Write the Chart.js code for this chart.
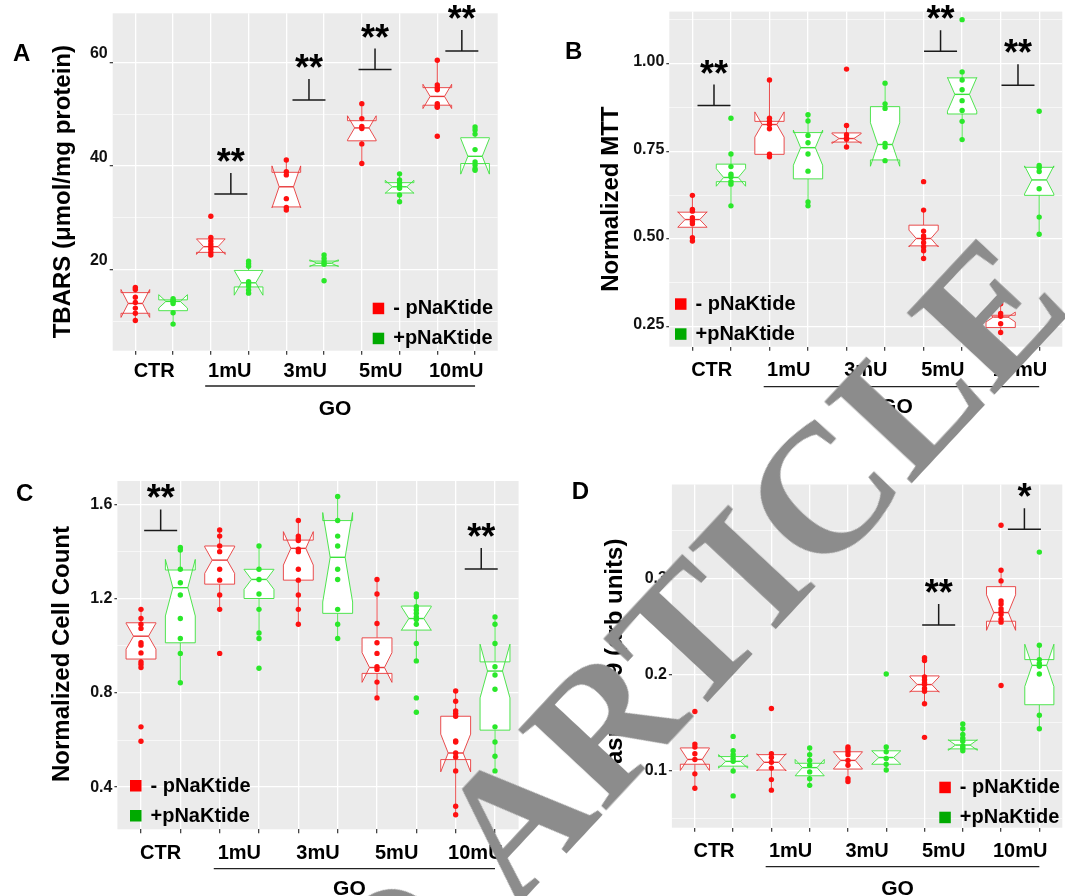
<!DOCTYPE html>
<html>
<head>
<meta charset="utf-8">
<script src="https://cdn.jsdelivr.net/npm/chart.js@4.4.1/dist/chart.umd.min.js"></script>
<style>
  html, body { margin: 0; padding: 0; background: #fff; }
  #page { position: relative; width: 1065px; height: 896px; overflow: hidden; }
  #page canvas { position: absolute; left: 0; top: 0; }
  #mark { position: absolute; width: 0; height: 0; transform: rotate(-47deg); transform-origin: 0 0;
          font-family: 'Liberation Serif', 'DejaVu Serif', serif; font-weight: bold; font-size: 182px;
          line-height: 1; color: #8c8c8c; white-space: pre; z-index: 5; }
  #mark span { position: absolute; top: -0.5065em; }
</style>
</head>
<body>
<div id="page">
  <canvas id="chartA" width="1065" height="896"></canvas>
  <canvas id="chartB" width="1065" height="896"></canvas>
  <canvas id="chartC" width="1065" height="896"></canvas>
  <canvas id="chartD" width="1065" height="896"></canvas>
  <div id="mark" style="left:470px; top:868.6px"><span style="right:0">RETRACTED </span><span style="left:0">ARTICLE</span></div>
</div>
<script>
const groups = ['CTR', '1mU', '3mU', '5mU', '10mU'];
const seriesNames = ['- pNaKtide', '+pNaKtide'];

// box stats per group: [lower whisker, Q1, median, Q3, upper whisker, notch half-height]

// A: TBARS
const tbarsRedPts = [
  [16.5, 16.1, 14.6, 13.6, 12.5, 11.5, 10.1],
  [30.3, 26.2, 25.5, 24.9, 24.4, 23.9, 23.3, 22.8],
  [41.2, 38.9, 38.3, 33.7, 32.0, 31.5],
  [52.1, 49.2, 47.7, 47.3, 44.3, 40.5],
  [60.5, 55.7, 55.2, 54.8, 52.1, 51.6, 51.4, 45.8]
];
const tbarsGreenPts = [
  [14.3, 14.0, 13.8, 13.4, 11.6, 9.4],
  [21.6, 21.1, 20.6, 17.6, 17.2, 16.8, 16.0, 15.4],
  [22.8, 22.1, 21.5, 21.0, 17.8],
  [38.5, 37.3, 36.8, 36.2, 35.7, 34.4, 33.1],
  [47.6, 47.0, 46.2, 43.2, 40.8, 40.2, 39.5, 39.2]
];
const tbarsRedBox = [
  [10.1, 11.5, 13.4, 15.5, 16.5, 2.7],
  [22.8, 23.3, 24.4, 25.9, 26.2, 1.5],
  [31.5, 32.1, 36.0, 38.8, 41.2, 4.05],
  [40.5, 44.9, 47.4, 48.8, 52.1, 2.35],
  [51.4, 51.8, 53.5, 55.2, 60.5, 2.35]
];
const tbarsGreenBox = [
  [9.4, 12.0, 13.8, 14.1, 14.3, 1.3],
  [15.4, 16.6, 17.4, 19.8, 21.6, 2.4],
  [20.7, 20.7, 21.2, 21.6, 22.8, 0.65],
  [33.1, 34.8, 36.0, 36.8, 38.5, 1.25],
  [39.2, 40.5, 41.9, 45.5, 47.6, 3.45]
];
const tbarsTicks = [10, 20, 30, 40, 50, 60];
const tbarsMajor = [20, 40, 60];
const tbarsSig = [[2.53, 34.6, '**'], [4.6, 52.8, '**'], [6.35, 58.7, '**'], [8.65, 62.3, '**']];

// B: MTT
const mttRedPts = [
  [0.624, 0.584, 0.579, 0.560, 0.550, 0.543, 0.503, 0.494],
  [0.953, 0.844, 0.835, 0.826, 0.814, 0.741, 0.734],
  [0.984, 0.823, 0.797, 0.788, 0.784, 0.762],
  [0.663, 0.582, 0.522, 0.508, 0.501, 0.489, 0.477, 0.466, 0.444],
  [0.315, 0.287, 0.279, 0.258, 0.233]
];
const mttGreenPts = [
  [0.844, 0.742, 0.706, 0.684, 0.677, 0.663, 0.656, 0.594],
  [0.854, 0.836, 0.795, 0.774, 0.742, 0.693, 0.605, 0.594],
  [0.944, 0.885, 0.872, 0.772, 0.762, 0.723],
  [1.125, 0.976, 0.953, 0.925, 0.894, 0.866, 0.835, 0.783],
  [0.864, 0.709, 0.703, 0.692, 0.643, 0.562, 0.513]
];
const mttRedBox = [
  [0.494, 0.533, 0.555, 0.576, 0.624, 0.022],
  [0.734, 0.741, 0.826, 0.835, 0.953, 0.036],
  [0.762, 0.776, 0.786, 0.802, 0.823, 0.014],
  [0.444, 0.480, 0.501, 0.539, 0.582, 0.024],
  [0.233, 0.247, 0.277, 0.282, 0.315, 0.014]
];
const mttGreenBox = [
  [0.594, 0.663, 0.675, 0.713, 0.742, 0.025],
  [0.594, 0.671, 0.760, 0.803, 0.854, 0.05],
  [0.723, 0.725, 0.769, 0.877, 0.944, 0.062],
  [0.783, 0.856, 0.912, 0.959, 0.976, 0.048],
  [0.513, 0.624, 0.668, 0.704, 0.709, 0.04]
];
const mttTicks = [0.25, 0.375, 0.5, 0.625, 0.75, 0.875, 1.0, 1.125];
const mttMajor = [0.25, 0.5, 0.75, 1.0];
const mttSig = [[0.56, 0.88, '**'], [6.44, 1.035, '**'], [8.45, 0.938, '**']];

// C: cell count
const cellRedPts = [
  [1.155, 1.116, 1.092, 1.074, 1.013, 1.003, 0.970, 0.932, 0.922, 0.908, 0.656, 0.595],
  [1.492, 1.466, 1.424, 1.400, 1.325, 1.279, 1.216, 1.155, 0.968],
  [1.532, 1.466, 1.456, 1.447, 1.410, 1.400, 1.325, 1.279, 1.216, 1.155, 1.092],
  [1.282, 1.220, 1.095, 1.013, 0.968, 0.911, 0.900, 0.846, 0.779],
  [0.808, 0.765, 0.724, 0.713, 0.701, 0.596, 0.592, 0.545, 0.528, 0.469, 0.319, 0.283]
];
const cellGreenPts = [
  [1.418, 1.407, 1.325, 1.268, 1.216, 1.116, 1.031, 0.968, 0.843],
  [1.424, 1.325, 1.282, 1.220, 1.155, 1.055, 1.031, 0.905],
  [1.634, 1.532, 1.466, 1.424, 1.325, 1.282, 1.155, 1.092, 1.031],
  [1.220, 1.209, 1.166, 1.152, 1.138, 1.123, 1.112, 1.092, 1.010, 0.936, 0.779, 0.718],
  [1.123, 1.092, 1.010, 0.911, 0.876, 0.816, 0.656, 0.592, 0.531, 0.469]
];
const cellRedBox = [
  [0.908, 0.944, 1.041, 1.098, 1.155, 0.055],
  [1.155, 1.262, 1.364, 1.424, 1.492, 0.056],
  [1.092, 1.279, 1.414, 1.449, 1.532, 0.071],
  [0.779, 0.883, 0.908, 1.034, 1.282, 0.063],
  [0.283, 0.517, 0.545, 0.701, 0.808, 0.08]
];
const cellGreenBox = [
  [0.843, 1.013, 1.247, 1.322, 1.418, 0.12],
  [1.031, 1.201, 1.282, 1.325, 1.424, 0.042],
  [1.031, 1.138, 1.376, 1.532, 1.634, 0.19],
  [0.936, 1.067, 1.116, 1.169, 1.220, 0.05],
  [0.469, 0.642, 0.893, 0.932, 1.123, 0.114]
];
const cellTicks = [0.4, 0.6, 0.8, 1.0, 1.2, 1.4, 1.6];
const cellMajor = [0.4, 0.8, 1.2, 1.6];
const cellSig = [[0.5, 1.49, '**'], [8.65, 1.326, '**']];

// D: caspase 9
const caspRedPts = [
  [0.162, 0.128, 0.125, 0.118, 0.112, 0.097, 0.082],
  [0.165, 0.118, 0.114, 0.109, 0.103, 0.091, 0.080],
  [0.125, 0.123, 0.120, 0.117, 0.111, 0.106, 0.092, 0.089],
  [0.218, 0.215, 0.198, 0.195, 0.192, 0.190, 0.186, 0.183, 0.170, 0.135],
  [0.356, 0.309, 0.298, 0.277, 0.274, 0.269, 0.266, 0.263, 0.258, 0.255, 0.189]
];
const caspGreenPts = [
  [0.136, 0.121, 0.117, 0.113, 0.110, 0.100, 0.074],
  [0.124, 0.117, 0.111, 0.106, 0.099, 0.092, 0.085],
  [0.201, 0.125, 0.120, 0.113, 0.107, 0.101],
  [0.149, 0.144, 0.138, 0.134, 0.131, 0.126, 0.124, 0.121],
  [0.328, 0.231, 0.216, 0.212, 0.209, 0.201, 0.158, 0.144]
];
const caspRedBox = [
  [0.082, 0.107, 0.112, 0.124, 0.128, 0.0115],
  [0.080, 0.101, 0.109, 0.117, 0.118, 0.009],
  [0.089, 0.102, 0.111, 0.120, 0.125, 0.009],
  [0.170, 0.183, 0.190, 0.199, 0.218, 0.008],
  [0.255, 0.256, 0.265, 0.292, 0.309, 0.0185]
];
const caspGreenBox = [
  [0.100, 0.105, 0.110, 0.115, 0.121, 0.007],
  [0.085, 0.095, 0.1035, 0.108, 0.124, 0.0085],
  [0.101, 0.107, 0.114, 0.121, 0.125, 0.007],
  [0.121, 0.123, 0.127, 0.132, 0.149, 0.0055],
  [0.144, 0.169, 0.210, 0.216, 0.231, 0.022]
];
const caspTicks = [0.05, 0.1, 0.15, 0.2, 0.25, 0.3, 0.35];
const caspMajor = [0.1, 0.2, 0.3];
const caspSig = [[6.37, 0.252, '**'], [8.61, 0.3517, '*']];

const FONT = "'Liberation Sans', Arial, Helvetica, sans-serif";
const RED = '#ff1010';
const GREEN = '#2ae82a';
const RED_LINE = '#e8393a';
const GREEN_LINE = '#3ce23c';
const RED_KEY = '#ff0000';
const GREEN_KEY = '#00aa00';
const W = 1065, H = 896;
const BOX_HW = 0.38;
const slots = groups.flatMap((g, i) => [2 * i, 2 * i + 1]);

function toPoints(list, offset) {
  const out = [];
  list.forEach((vals, i) => vals.forEach(v => out.push({ x: 2 * i + offset, y: v })));
  return out;
}

function text(ctx, s, x, y, size, align, color) {
  ctx.font = 'bold ' + size + 'px ' + FONT;
  ctx.textAlign = align;
  ctx.textBaseline = 'alphabetic';
  ctx.fillStyle = color || '#111';
  ctx.fillText(s, x, y);
}

function drawBox(ctx, xs, ys, xi, st, color) {
  const [lo, q1, med, q3, hi, nh] = st;
  const Y = v => ys.getPixelForValue(v);
  const cx = xs.getPixelForValue(xi);
  const x0 = xs.getPixelForValue(xi - BOX_HW);
  const x1 = xs.getPixelForValue(xi + BOX_HW);
  const ind = (x1 - x0) / 4;
  ctx.strokeStyle = color;
  ctx.lineWidth = 0.9;
  ctx.beginPath();
  ctx.moveTo(cx, Y(q3)); ctx.lineTo(cx, Y(hi));
  ctx.moveTo(cx, Y(q1)); ctx.lineTo(cx, Y(lo));
  ctx.stroke();
  ctx.beginPath();
  ctx.moveTo(x0, Y(q3));
  ctx.lineTo(x0, Y(med + nh));
  ctx.lineTo(x0 + ind, Y(med));
  ctx.lineTo(x0, Y(med - nh));
  ctx.lineTo(x0, Y(q1));
  ctx.lineTo(x1, Y(q1));
  ctx.lineTo(x1, Y(med - nh));
  ctx.lineTo(x1 - ind, Y(med));
  ctx.lineTo(x1, Y(med + nh));
  ctx.lineTo(x1, Y(q3));
  ctx.closePath();
  ctx.fillStyle = '#fff';
  ctx.fill();
  ctx.stroke();
  ctx.lineWidth = 1.4;
  ctx.beginPath();
  ctx.moveTo(x0 + ind, Y(med)); ctx.lineTo(x1 - ind, Y(med));
  ctx.stroke();
}

function makePanel(p) {
  const a = p.area;
  const panelPlugin = {
    id: 'panel' + p.letter,
    beforeDraw(chart) {
      const c = chart.chartArea, ctx = chart.ctx;
      ctx.save();
      ctx.fillStyle = '#ebebeb';
      ctx.fillRect(c.left, c.top, c.right - c.left, c.bottom - c.top);
      ctx.restore();
    },
    beforeDatasetsDraw(chart) {
      const ctx = chart.ctx, xs = chart.scales.x, ys = chart.scales.y;
      ctx.save();
      p.redBox.forEach((st, i) => drawBox(ctx, xs, ys, 2 * i, st, RED_LINE));
      p.greenBox.forEach((st, i) => drawBox(ctx, xs, ys, 2 * i + 1, st, GREEN_LINE));
      ctx.restore();
    },
    afterDraw(chart) {
      const ctx = chart.ctx, xs = chart.scales.x, ys = chart.scales.y;
      ctx.save();
      text(ctx, p.letter, p.letterX, p.letterY, 24, 'left', '#000');
      ctx.save();
      ctx.translate(p.titleX, p.titleY);
      ctx.rotate(-Math.PI / 2);
      ctx.font = 'bold 24px ' + FONT;
      ctx.textAlign = 'center';
      ctx.textBaseline = 'middle';
      ctx.fillStyle = '#000';
      ctx.fillText(p.title, 0, 0);
      ctx.restore();
      groups.forEach((g, i) => text(ctx, g, xs.getPixelForValue(2 * i + 0.5), p.labelY, 20, 'center', '#000'));
      const u0 = xs.getPixelForValue(1.85), u1 = xs.getPixelForValue(9.0);
      ctx.strokeStyle = '#222';
      ctx.lineWidth = 1.3;
      ctx.beginPath(); ctx.moveTo(u0, p.lineY); ctx.lineTo(u1, p.lineY); ctx.stroke();
      text(ctx, 'GO', (u0 + u1) / 2 - 5, p.goY, 21, 'center', '#000');
      [[RED_KEY, seriesNames[0]], [GREEN_KEY, seriesNames[1]]].forEach(([col, name], k) => {
        const ly = p.legendY + 30 * k;
        ctx.fillStyle = col;
        ctx.fillRect(p.legendX, ly, 11.5, 11.5);
        text(ctx, name, p.legendX + 20.5, ly + 11.5, 20, 'left', '#000');
      });
      ctx.strokeStyle = '#1a1a1a';
      ctx.lineWidth = 1.5;
      p.sig.forEach(([xc, v, lab]) => {
        const X = xs.getPixelForValue(xc), Yp = ys.getPixelForValue(v);
        ctx.beginPath();
        ctx.moveTo(X - 16.5, Yp); ctx.lineTo(X + 16.5, Yp);
        ctx.moveTo(X, Yp); ctx.lineTo(X, Yp - 21);
        ctx.stroke();
        ctx.font = 'bold 36px ' + FONT;
        const m = ctx.measureText(lab);
        const base = Yp - 39 + (m.actualBoundingBoxAscent - m.actualBoundingBoxDescent) / 2;
        text(ctx, lab, X, base, 36, 'center', '#000');
      });
      ctx.restore();
    }
  };

  return new Chart(document.getElementById(p.id), {
    type: 'scatter',
    data: {
      datasets: [
        { label: seriesNames[0], data: toPoints(p.red, 0), backgroundColor: RED, borderWidth: 0, pointRadius: 2.7, pointHoverRadius: 2.7 },
        { label: seriesNames[1], data: toPoints(p.green, 1), backgroundColor: GREEN, borderWidth: 0, pointRadius: 2.7, pointHoverRadius: 2.7 }
      ]
    },
    options: {
      responsive: false,
      animation: false,
      devicePixelRatio: 1,
      events: [],
      layout: { padding: { left: 0, top: a.t, right: W - a.r, bottom: 0 } },
      plugins: { legend: { display: false }, tooltip: { enabled: false } },
      scales: {
        x: {
          type: 'linear', min: -0.6, max: 9.6,
          afterBuildTicks: s => { s.ticks = slots.map(v => ({ value: v })); },
          afterFit: s => { s.height = H - a.b; },
          ticks: { callback: () => '', autoSkip: false },
          grid: { color: '#ffffff', lineWidth: 1.3, tickColor: '#444', tickLength: 4 },
          border: { display: false }
        },
        y: {
          type: 'linear', min: p.yMin, max: p.yMax,
          afterBuildTicks: s => { s.ticks = p.ticks.map(v => ({ value: v })); },
          afterFit: s => { s.width = a.l; },
          ticks: {
            autoSkip: false,
            callback: v => p.majors.includes(v) ? v.toFixed(p.dec) : '',
            font: { family: FONT, size: 16, weight: 'bold' },
            color: '#111',
            padding: 2,
            labelOffset: p.labelOffset || 0
          },
          grid: {
            color: '#ffffff',
            lineWidth: c => (c.tick && p.majors.includes(c.tick.value)) ? 1.3 : 0.6,
            tickColor: c => (c.tick && p.majors.includes(c.tick.value)) ? '#444' : 'rgba(0,0,0,0)',
            tickLength: 3
          },
          border: { display: false }
        }
      }
    },
    plugins: [panelPlugin]
  });
}

makePanel({
  id: 'chartA', letter: 'A', area: { l: 112.7, t: 13.3, r: 497.7, b: 350.7 },
  yMin: 4.25, yMax: 69.6, ticks: tbarsTicks, majors: tbarsMajor, dec: 0, labelOffset: -9,
  red: tbarsRedPts, green: tbarsGreenPts, redBox: tbarsRedBox, greenBox: tbarsGreenBox, sig: tbarsSig,
  title: 'TBARS (μmol/mg protein)', titleX: 63.3, titleY: 191.7, letterX: 13, letterY: 60.7,
  labelY: 377, lineY: 386, goY: 415, legendX: 372.7, legendY: 302.7
});
makePanel({
  id: 'chartB', letter: 'B', area: { l: 669.3, t: 8.3, r: 1063.5, b: 346.7 },
  yMin: 0.1924, yMax: 1.148, ticks: mttTicks, majors: mttMajor, dec: 2, labelOffset: -2,
  red: mttRedPts, green: mttGreenPts, redBox: mttRedBox, greenBox: mttGreenBox, sig: mttSig,
  title: 'Normalized MTT', titleX: 611.7, titleY: 199.2, letterX: 565, letterY: 59.3,
  labelY: 376, lineY: 386.7, goY: 413.3, legendX: 675, legendY: 298.3
});
makePanel({
  id: 'chartC', letter: 'C', area: { l: 117.4, t: 481, r: 518.6, b: 829.3 },
  yMin: 0.221, yMax: 1.70, ticks: cellTicks, majors: cellMajor, dec: 1,
  red: cellRedPts, green: cellGreenPts, redBox: cellRedBox, greenBox: cellGreenBox, sig: cellSig,
  title: 'Normalized Cell Count', titleX: 62.5, titleY: 654, letterX: 16, letterY: 500.7,
  labelY: 859.3, lineY: 868.7, goY: 894.5, legendX: 130, legendY: 780
});
makePanel({
  id: 'chartD', letter: 'D', area: { l: 671.9, t: 484.5, r: 1064.1, b: 827.7 },
  yMin: 0.0409, yMax: 0.3984, ticks: caspTicks, majors: caspMajor, dec: 1,
  red: caspRedPts, green: caspGreenPts, redBox: caspRedBox, greenBox: caspGreenBox, sig: caspSig,
  title: 'Caspase 9 (arb units)', titleX: 615.8, titleY: 660, letterX: 571.7, letterY: 499.3,
  labelY: 856.7, lineY: 866.7, goY: 895, legendX: 939.3, legendY: 781.7
});
</script>
</body>
</html>
